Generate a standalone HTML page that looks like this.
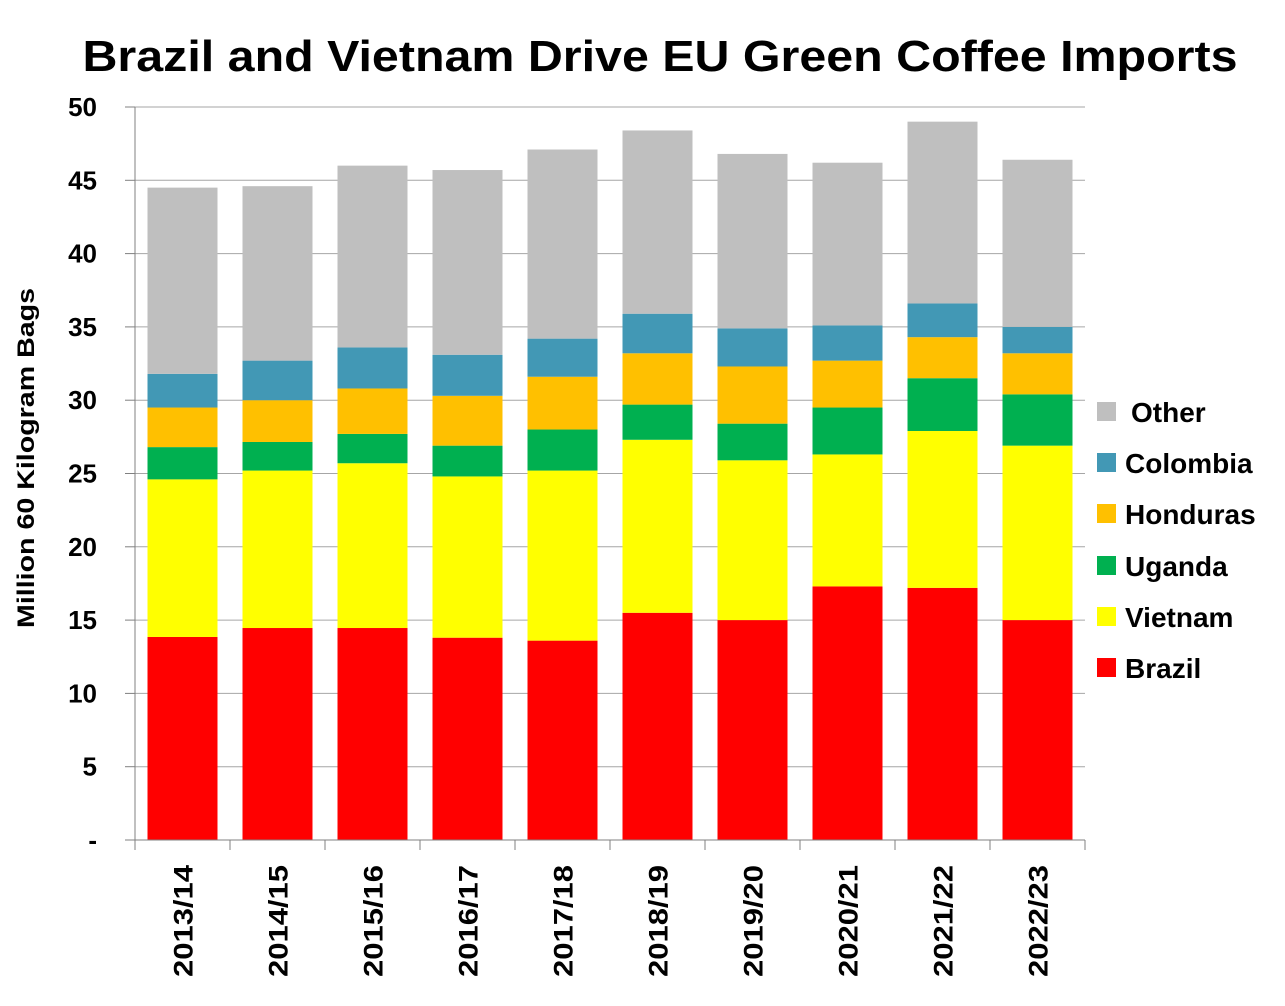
<!DOCTYPE html>
<html><head><meta charset="utf-8"><style>
body{margin:0;background:#fff;}
svg{display:block;font-family:"Liberation Sans",sans-serif;font-weight:bold;}
</style></head><body>
<svg id="chart" width="1285" height="1006" viewBox="0 0 1285 1006" xmlns="http://www.w3.org/2000/svg">
<text x="660" y="71" text-anchor="middle" font-size="44" textLength="1155" lengthAdjust="spacingAndGlyphs" fill="#000">Brazil and Vietnam Drive EU Green Coffee Imports</text>
<text transform="translate(34,458) rotate(-90)" text-anchor="middle" font-size="24" textLength="340" lengthAdjust="spacingAndGlyphs">Million 60 Kilogram Bags</text>
<g id="grid"></g><g id="bars"></g><g id="axes"></g><g id="legend"></g>
</svg>
<script>
const categories=["2013/14","2014/15","2015/16","2016/17","2017/18","2018/19","2019/20","2020/21","2021/22","2022/23"];
const seriesNames=["Brazil","Vietnam","Uganda","Honduras","Colombia","Other"];
const brazil=[13.85,14.46,14.46,13.8,13.6,15.5,15.0,17.3,17.2,15.0];
const vietnam=[10.75,10.74,11.24,11.0,11.6,11.8,10.9,9.0,10.7,11.9];
const uganda=[2.2,1.95,2.0,2.1,2.8,2.4,2.5,3.2,3.6,3.5];
const honduras=[2.7,2.85,3.1,3.4,3.6,3.5,3.9,3.2,2.8,2.8];
const colombia=[2.3,2.7,2.8,2.8,2.6,2.7,2.6,2.4,2.3,1.8];
const other=[12.7,11.9,12.4,12.6,12.9,12.5,11.9,11.1,12.4,11.4];
const yTicks=[0,5,10,15,20,25,30,35,40,45,50];
const yTickLabels=["-","5","10","15","20","25","30","35","40","45","50"];

const series=[brazil,vietnam,uganda,honduras,colombia,other];
const colors=["#ff0000","#ffff00","#00b050","#ffc000","#4298b5","#bfbfbf"];
const NS="http://www.w3.org/2000/svg";
const X0=135,X1=1085,Y0=840,Y1=107,YMAX=50;
const band=(X1-X0)/categories.length, barW=70;
const y=v=>Y0-(v/YMAX)*(Y0-Y1);
const xc=i=>X0+band*(i+0.5);
function mk(tag,attrs,parent){const e=document.createElementNS(NS,tag);for(const k in attrs)e.setAttribute(k,attrs[k]);parent.appendChild(e);return e;}
const grid=document.getElementById('grid'),bars=document.getElementById('bars'),axes=document.getElementById('axes'),legend=document.getElementById('legend');
yTicks.forEach((t,i)=>{
  if(t>0){const g=mk('line',{x1:X0,x2:X1,y1:y(t),y2:y(t),stroke:'#a6a6a6','stroke-width':1},grid);
  
  }
  const tk=mk('line',{x1:X0-10,x2:X0,y1:y(t),y2:y(t),stroke:'#808080'},axes);
  
  
  const lb=mk('text',{x:97,y:y(t)+9,'text-anchor':'end','font-size':26},axes);
  lb.textContent=yTickLabels[i];
  
  
});
categories.forEach((c,i)=>{
  let cum=0;
  series.forEach((s,k)=>{
    const r=mk('rect',{x:xc(i)-barW/2,y:y(cum+s[i]),width:barW,height:y(cum)-y(cum+s[i]),fill:colors[k]},bars);
    
    
    cum+=s[i];
  });
  const lb=mk('text',{transform:`translate(${xc(i)+10},865) rotate(-90)`,'text-anchor':'end','font-size':27,textLength:112,lengthAdjust:'spacingAndGlyphs'},axes);
  lb.textContent=c;
  
  
});
for(let i=0;i<=categories.length;i++){
  const t=mk('line',{x1:X0+band*i,x2:X0+band*i,y1:Y0,y2:Y0+10,stroke:'#808080'},axes);
  
  
}
const ya=mk('line',{x1:X0,x2:X0,y1:Y1,y2:Y0,stroke:'#808080'},axes);


const xa=mk('line',{x1:X0,x2:X1,y1:Y0,y2:Y0,stroke:'#808080'},axes);


const legY=[668,617,566,514,463,412];
seriesNames.forEach((n,k)=>{
  const g=mk('g',{},legend);
  
  
  mk('rect',{x:1097,y:legY[k]-10,width:19,height:19,fill:colors[k]},g);
  const t=mk('text',{x:n==="Other"?1131:1125,y:legY[k]+10,'font-size':28},g);
  t.textContent=n;
});
</script>
</body></html>
